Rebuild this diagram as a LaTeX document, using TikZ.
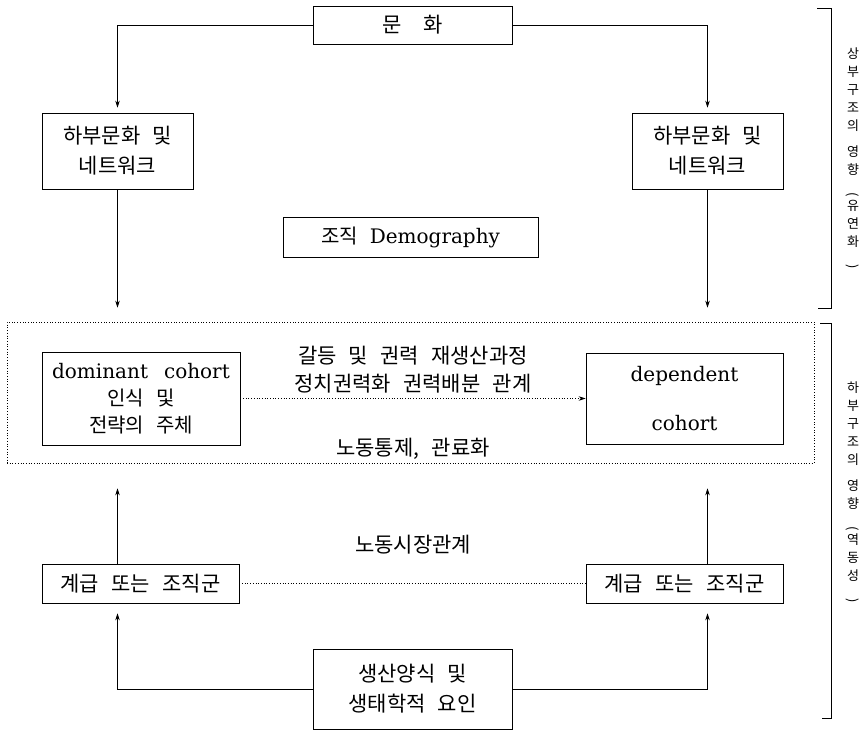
\documentclass[tikz,border=0pt]{standalone}
\usepackage{fontspec}
\setmainfont{DejaVu Serif}
\newfontfamily\kr[WordSpace=2.6]{Noto Sans CJK KR}
\usepackage{graphicx}
\usetikzlibrary{arrows.meta, positioning, calc}

\begin{document}
\begin{tikzpicture}[
    x=1pt, y=-1pt,
    box/.style={draw, line width=0.7pt, align=center, inner sep=0pt, font=\kr\fontsize{21}{30}\selectfont},
    latin/.style={font=\fontsize{20}{27}\selectfont},
    label/.style={align=center, inner sep=0pt, font=\kr\fontsize{21}{28}\selectfont},
    side/.style={align=center, inner sep=0pt, font=\kr\fontsize{13}{18}\selectfont},
    link/.style={line width=0.6pt},
    tip/.style={-{Stealth[length=7pt, width=4.5pt]}},
    dots/.style={line width=0.7pt, dotted},
]
\useasboundingbox (0,0) rectangle (866,731);

% upper structure
\node[box, minimum width=199, minimum height=38] (culture) at (412.5,25) {문\quad 화};
\node[box, minimum width=151, minimum height=76] (subL) at (117.5,151) {하부문화 및\\네트워크};
\node[box, minimum width=151, minimum height=76] (subR) at (707.5,151) {하부문화 및\\네트워크};
\node[box, latin, minimum width=255, minimum height=40] (demog) at (410.5,237) {{\kr 조직}\hspace{12pt}Demography};

% organisation layer
\node[draw, dots, minimum width=807, minimum height=141] (layer) at (410.5,392.5) {};
\node[box, latin, minimum width=198, minimum height=93] (dominant) at (141,398.5)
    {dominant\hspace{16pt}cohort\\{\kr 인식 및}\\{\kr 전략의 주체}};
\node[box, latin, minimum width=197, minimum height=91] (dependent) at (684.5,398.5)
    {dependent\\[22pt]cohort};
\node[label] (conflict) at (413,370) {갈등 및 권력 재생산과정\\정치권력화 권력배분 관계};
\node[label] (control) at (413,449) {노동통제, 관료화};

% lower structure
\node[label] (market) at (413,545) {노동시장관계};
\node[box, minimum width=197, minimum height=39] (classL) at (140.5,583.5) {계급 또는 조직군};
\node[box, minimum width=197, minimum height=39] (classR) at (684.5,583.5) {계급 또는 조직군};
\node[box, minimum width=199, minimum height=80] (prod) at (412.5,689) {생산양식 및\\생태학적 요인};

\draw[link, tip, shorten >=5pt] (culture.west) -| (subL.north);
\draw[link, tip, shorten >=5pt] (culture.east) -| (subR.north);
\draw[link, tip, shorten >=14pt] (subL.south) -- (subL.south |- layer.north);
\draw[link, tip, shorten >=14pt] (subR.south) -- (subR.south |- layer.north);
\draw[dots, tip] (dominant.east) -- (dependent.west);
\draw[link, tip, shorten >=25pt] (classL.north -| subL.south) -- (subL.south |- layer.south);
\draw[link, tip, shorten >=25pt] (classR.north -| subR.south) -- (subR.south |- layer.south);
\draw[dots] (classL.east) -- (classR.west);
\draw[link, tip, shorten >=10pt] (prod.west) -| (classL.south -| subL.south);
\draw[link, tip, shorten >=10pt] (prod.east) -| (classR.south -| subR.south);

% brackets
\draw[link] (817,8) -- (831,8) -- (831,308) -- (818,308);
\draw[link] (820,323) -- (831,323) -- (831,718) -- (822,718);
\node[side] (upperNote) at (853,158)
    {상\\부\\구\\조\\의\\[8pt]영\\향\\\rotatebox{-90}{(}\\유\\연\\화\\\rotatebox{-90}{)}};
\node[side] (lowerNote) at (853,492)
    {하\\부\\구\\조\\의\\[8pt]영\\향\\\rotatebox{-90}{(}\\역\\동\\성\\\rotatebox{-90}{)}};
\end{tikzpicture}
\end{document}
